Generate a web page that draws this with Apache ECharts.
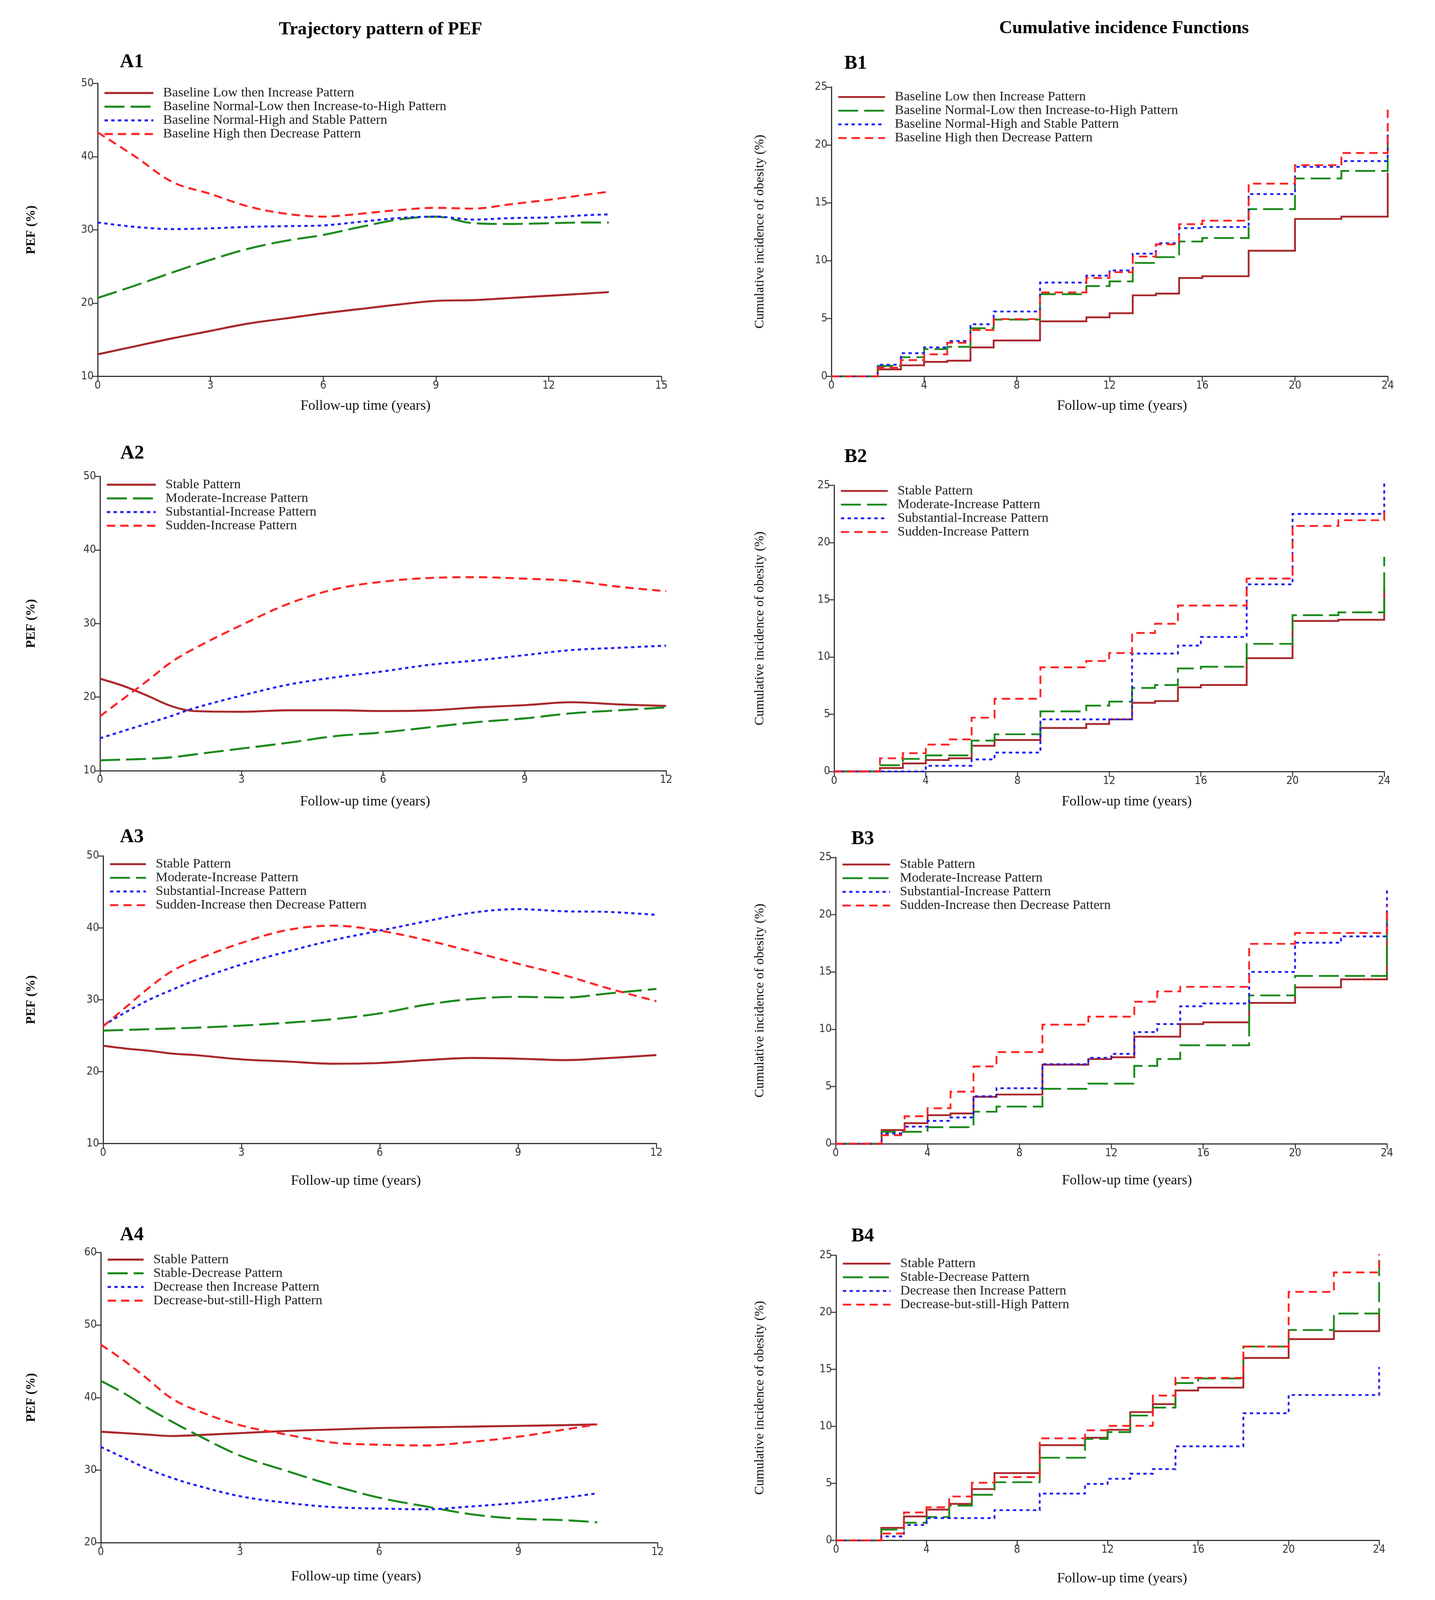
<!DOCTYPE html>
<html>
<head>
<meta charset="utf-8">
<script src="https://cdn.jsdelivr.net/npm/echarts@6/dist/echarts.min.js"></script>
<style>
html,body{margin:0;padding:0;background:#fff;overflow:hidden;}
#chart{width:3673px;height:5608px;}
</style>
</head>
<body>
<div id="chart"></div>
<script>
// ---------- DATA ----------
const mainTitles = ['Trajectory pattern of PEF', 'Cumulative incidence Functions'];
const panelLabels = ['A1', 'B1', 'A2', 'B2', 'A3', 'B3', 'A4', 'B4'];
const xTitle = 'Follow-up time (years)';
const yTitleA = 'PEF (%)';
const yTitleB = 'Cumulative incidence of obesity (%)';

const namesP1 = ['Baseline Low then Increase Pattern', 'Baseline Normal-Low then Increase-to-High Pattern',
  'Baseline Normal-High and Stable Pattern', 'Baseline High then Decrease Pattern'];
const namesP2 = ['Stable Pattern', 'Moderate-Increase Pattern', 'Substantial-Increase Pattern', 'Sudden-Increase Pattern'];
const namesP3 = ['Stable Pattern', 'Moderate-Increase Pattern', 'Substantial-Increase Pattern', 'Sudden-Increase then Decrease Pattern'];
const namesP4 = ['Stable Pattern', 'Stable-Decrease Pattern', 'Decrease then Increase Pattern', 'Decrease-but-still-High Pattern'];

// Trajectory panels (PEF %)
const a1Years = [0, 1, 2, 3, 4, 5, 6, 7, 8, 9, 10, 11, 12, 13, 13.6];
const a1Low   = [13.0, 14.1, 15.2, 16.2, 17.2, 17.9, 18.6, 19.2, 19.8, 20.3, 20.4, 20.7, 21.0, 21.3, 21.5];
const a1NLow  = [20.7, 22.4, 24.2, 25.9, 27.4, 28.5, 29.3, 30.4, 31.4, 31.8, 30.9, 30.8, 30.9, 31.0, 31.0];
const a1NHigh = [31.0, 30.4, 30.1, 30.2, 30.4, 30.5, 30.6, 31.1, 31.6, 31.8, 31.4, 31.6, 31.7, 32.0, 32.1];
const a1High  = [43.3, 40.0, 36.5, 34.9, 33.2, 32.2, 31.8, 32.2, 32.7, 33.0, 32.9, 33.5, 34.1, 34.8, 35.2];

const a2Years = [0, 0.5, 1, 1.5, 2, 3, 4, 5, 6, 7, 8, 9, 10, 11, 12];
const a2Stable = [22.5, 21.5, 20.2, 18.8, 18.1, 18.0, 18.2, 18.2, 18.1, 18.2, 18.6, 18.9, 19.3, 19.0, 18.8];
const a2Moder  = [11.4, 11.5, 11.6, 11.8, 12.2, 13.0, 13.8, 14.7, 15.2, 15.9, 16.6, 17.1, 17.8, 18.2, 18.6];
const a2Subst  = [14.4, 15.4, 16.4, 17.4, 18.5, 20.2, 21.7, 22.7, 23.5, 24.4, 25.0, 25.7, 26.4, 26.7, 27.0];
const a2Sudden = [17.4, 19.8, 22.2, 24.7, 26.6, 29.8, 32.7, 34.7, 35.7, 36.2, 36.3, 36.1, 35.8, 35.0, 34.4];

const a3Years = [0, 0.5, 1, 1.5, 2, 3, 4, 5, 6, 7, 8, 9, 10, 11, 12];
const a3Stable = [23.6, 23.2, 22.9, 22.5, 22.3, 21.7, 21.4, 21.1, 21.2, 21.6, 21.9, 21.8, 21.6, 21.9, 22.3];
const a3Moder  = [25.7, 25.8, 25.9, 26.0, 26.1, 26.4, 26.8, 27.3, 28.1, 29.3, 30.1, 30.4, 30.3, 30.9, 31.5];
const a3Subst  = [26.4, 28.3, 30.0, 31.4, 32.7, 34.9, 36.7, 38.3, 39.6, 40.9, 42.1, 42.6, 42.3, 42.2, 41.8];
const a3Sudden = [26.3, 29.0, 31.7, 34.0, 35.5, 37.9, 39.7, 40.3, 39.6, 38.3, 36.7, 35.0, 33.4, 31.5, 29.8];

const a4Years = [0, 0.5, 1, 1.5, 2, 3, 4, 5, 6, 7, 8, 9, 10, 10.7];
const a4Stable  = [35.3, 35.1, 34.9, 34.7, 34.8, 35.1, 35.4, 35.6, 35.8, 35.9, 36.0, 36.1, 36.2, 36.3];
const a4StabDec = [42.3, 40.6, 38.6, 36.8, 35.1, 32.0, 29.9, 27.9, 26.2, 25.0, 23.9, 23.3, 23.1, 22.8];
const a4DecInc  = [33.2, 31.7, 30.2, 29.0, 28.0, 26.4, 25.5, 24.9, 24.7, 24.6, 25.0, 25.5, 26.2, 26.8];
const a4DecHigh = [47.3, 45.1, 42.6, 40.0, 38.4, 36.2, 34.9, 33.8, 33.5, 33.4, 33.9, 34.6, 35.6, 36.3];

// Cumulative incidence (step functions, %)
const bYears = [0, 2, 3, 4, 5, 6, 7, 9, 11, 12, 13, 14, 15, 16, 18, 20, 22, 24];
const b1Low   = [0, 0.6, 0.95, 1.25, 1.35, 2.5, 3.1, 4.75, 5.1, 5.45, 7.0, 7.15, 8.5, 8.65, 10.85, 13.6, 13.8, 17.6];
const b1NLow  = [0, 0.9, 1.65, 2.35, 2.55, 4.15, 4.9, 7.1, 7.8, 8.2, 9.8, 10.3, 11.65, 11.95, 14.45, 17.1, 17.75, 20.6];
const b1NHigh = [0, 1.0, 2.0, 2.5, 3.05, 4.5, 5.6, 8.1, 8.7, 9.15, 10.6, 11.5, 12.8, 12.9, 15.75, 18.1, 18.6, 21.3];
const b1High  = [0, 0.75, 1.4, 1.9, 2.9, 4.0, 4.95, 7.25, 8.5, 9.0, 10.35, 11.4, 13.15, 13.45, 16.65, 18.25, 19.3, 23.1];

const b2Stable = [0, 0.3, 0.7, 1.0, 1.15, 2.25, 2.75, 3.8, 4.15, 4.55, 6.0, 6.15, 7.35, 7.55, 9.9, 13.15, 13.25, 16.0];
const b2Moder  = [0, 0.55, 1.1, 1.4, 1.4, 2.7, 3.25, 5.25, 5.75, 6.1, 7.3, 7.55, 9.0, 9.15, 11.15, 13.65, 13.9, 18.75];
const b2Subst  = [0, 0, 0, 0.5, 0.5, 1.05, 1.65, 4.55, 4.55, 4.55, 10.3, 10.3, 11.0, 11.75, 16.35, 22.5, 22.5, 25.3];
const b2Sudden = [0, 1.15, 1.6, 2.35, 2.8, 4.7, 6.35, 9.1, 9.65, 10.35, 12.1, 12.9, 14.5, 14.5, 16.85, 21.45, 21.95, 23.2];

const b3Stable = [0, 1.2, 1.8, 2.5, 2.65, 4.1, 4.3, 6.9, 7.4, 7.55, 9.35, 9.35, 10.45, 10.6, 12.3, 13.65, 14.35, 20.2];
const b3Moder  = [0, 1.05, 1.05, 1.45, 1.45, 2.8, 3.25, 4.8, 5.25, 5.25, 6.8, 7.4, 8.6, 8.6, 12.95, 14.65, 14.65, 19.5];
const b3Subst  = [0, 0.9, 1.5, 2.0, 2.3, 4.15, 4.85, 6.95, 7.5, 7.85, 9.75, 10.45, 12.0, 12.25, 15.0, 17.55, 18.1, 22.3];
const b3Sudden = [0, 0.75, 2.4, 3.1, 4.55, 6.75, 8.0, 10.4, 11.1, 11.1, 12.4, 13.3, 13.7, 13.7, 17.45, 18.4, 18.4, 20.8];

const b4Stable  = [0, 1.1, 2.1, 2.7, 3.2, 4.5, 5.9, 8.35, 9.0, 9.7, 11.25, 11.95, 13.15, 13.4, 16.0, 17.65, 18.35, 19.9];
const b4StabDec = [0, 0.95, 1.55, 2.05, 3.05, 4.0, 5.1, 7.25, 8.9, 9.5, 10.95, 11.65, 13.8, 14.2, 17.0, 18.45, 19.9, 24.6];
const b4DecInc  = [0, 0.35, 1.35, 1.95, 1.95, 1.95, 2.65, 4.1, 4.95, 5.4, 5.85, 6.25, 8.25, 8.25, 11.15, 12.75, 12.75, 15.2];
const b4DecHigh = [0, 0.6, 2.45, 2.9, 3.85, 5.05, 5.55, 8.95, 9.65, 10.05, 10.05, 12.7, 14.25, 14.25, 17.0, 21.8, 23.5, 25.1];

// Axis ticks
const aYTicks1 = {min: 10, max: 50, interval: 10};
const aYTicks4 = {min: 20, max: 60, interval: 10};
const aXTicks15 = {min: 0, max: 15, interval: 3};
const aXTicks12 = {min: 0, max: 12, interval: 3};
const bYTicks = {min: 0, max: 25, interval: 5};
const bXTicks = {min: 0, max: 24, interval: 4};

// ---------- SIZE / SCALE (layout designed for 3673 x 5608, fitted to the window) ----------
const REF_W = 3673, REF_H = 5608;
const W = Math.min(REF_W, window.innerWidth || REF_W);
const H = Math.min(REF_H, window.innerHeight || REF_H);
const sx = W / REF_W, sy = H / REF_H;
const sm = Math.sqrt(sx * sy);
const f = Math.min(1, sy * 1.1);   // font scale
const X = v => v * sx, Y = v => v * sy;

// ---------- STYLES ----------
const C_DARK = '#A8282C', C_GREEN = '#1C8A1C', C_BLUE = '#2020F5', C_RED = '#FF2424';
const styles = [
  {color: C_DARK, type: 'solid'},
  {color: C_GREEN, type: [60 * sm, 18 * sm]},
  {color: C_BLUE, type: [10 * sm, 10 * sm]},
  {color: C_RED, type: [25 * sm, 15 * sm]}
];
const SERIF = "'Liberation Serif', 'Times New Roman', serif";
const NARROW = "'Liberation Sans Narrow', 'Arial Narrow', 'DejaVu Sans Condensed', 'Liberation Sans', sans-serif";

// Panel layout (reference pixels)
const panels = [
  {label: 'A1', kind: 'A', grid: [250, 292, 1443, 1027], xt: aXTicks15, yt: aYTicks1, x: a1Years, ys: [a1Low, a1NLow, a1NHigh, a1High], names: namesP1,
   lab: [302, 218], legTop: 325, iconW: 125, xNameShift: -36, xNameOff: 104},
  {label: 'B1', kind: 'B', grid: [2128, 305, 1424, 1014], xt: bXTicks, yt: bYTicks, x: bYears, ys: [b1Low, b1NLow, b1NHigh, b1High], names: namesP1,
   lab: [2156, 223], legTop: 339, iconW: 120, xNameShift: 32, xNameOff: 104},
  {label: 'A2', kind: 'A', grid: [256, 1670, 1449, 1031], xt: aXTicks12, yt: aYTicks1, x: a2Years, ys: [a2Stable, a2Moder, a2Subst, a2Sudden], names: namesP2,
   lab: [303, 1589], legTop: 1698, iconW: 125, xNameShift: -46, xNameOff: 109},
  {label: 'B2', kind: 'B', grid: [2135, 1701, 1408, 1003], xt: bXTicks, yt: bYTicks, x: bYears, ys: [b2Stable, b2Moder, b2Subst, b2Sudden], names: namesP2,
   lab: [2156, 1602], legTop: 1720, iconW: 120, xNameShift: 45, xNameOff: 106},
  {label: 'A3', kind: 'A', grid: [264, 3000, 1416, 1008], xt: aXTicks12, yt: aYTicks1, x: a3Years, ys: [a3Stable, a3Moder, a3Subst, a3Sudden], names: namesP3,
   lab: [302, 2934], legTop: 3028, iconW: 92, xNameShift: -61, xNameOff: 132},
  {label: 'B3', kind: 'B', grid: [2139, 3005, 1411, 1004], xt: bXTicks, yt: bYTicks, x: bYears, ys: [b3Stable, b3Moder, b3Subst, b3Sudden], names: namesP3,
   lab: [2174, 2941], legTop: 3029, iconW: 122, xNameShift: 40, xNameOff: 129},
  {label: 'A4', kind: 'A', grid: [258, 4390, 1425, 1017], xt: aXTicks12, yt: aYTicks4, x: a4Years, ys: [a4Stable, a4StabDec, a4DecInc, a4DecHigh], names: namesP4,
   lab: [302, 4329], legTop: 4414, iconW: 92, xNameShift: -59, xNameOff: 120},
  {label: 'B4', kind: 'B', grid: [2140, 4400, 1390, 999], xt: bXTicks, yt: bYTicks, x: bYears, ys: [b4Stable, b4StabDec, b4DecInc, b4DecHigh], names: namesP4,
   lab: [2174, 4334], legTop: 4428, iconW: 122, xNameShift: 37, xNameOff: 135}
];

// ---------- BUILD OPTION ----------
const FS_MAIN = 58 * f, FS_LAB = 62 * f, FS_XNAME = 45 * f, FS_YA = 41 * f, FS_YB = 42 * f,
      FS_TICK = 35 * f, FS_LEG = 43 * f;
const grids = [], xAxes = [], yAxes = [], series = [], legends = [];
const titles = [
  {text: mainTitles[0], left: X(969), top: Y(104) - FS_MAIN / 2 - 5, textAlign: 'center',
   textStyle: {fontFamily: SERIF, fontWeight: 'bold', fontSize: FS_MAIN, color: '#000'}},
  {text: mainTitles[1], left: X(2872), top: Y(100) - FS_MAIN / 2 - 5, textAlign: 'center',
   textStyle: {fontFamily: SERIF, fontWeight: 'bold', fontSize: FS_MAIN, color: '#000'}}
];

panels.forEach((p, i) => {
  const [gl, gt, gw, gh] = p.grid;
  grids.push({left: X(gl), top: Y(gt), width: X(gw), height: Y(gh), containLabel: false});
  titles.push({text: p.label, left: X(p.lab[0]), top: Y(p.lab[1]) - FS_LAB / 2 - 5,
    textStyle: {fontFamily: SERIF, fontWeight: 'bold', fontSize: FS_LAB, color: '#000'}});
  const axisCommon = {
    axisLine: {show: true, lineStyle: {color: '#333', width: 3.5 * sm}},
    axisTick: {show: true, length: 16 * sm, inside: false, lineStyle: {color: '#333', width: 3 * sm}},
    axisLabel: {fontFamily: NARROW, fontSize: FS_TICK, color: '#333', margin: 12 * sm},
    splitLine: {show: false}
  };
  const sh = X(p.xNameShift);
  xAxes.push(Object.assign({
    gridIndex: i, type: 'value', min: p.xt.min, max: p.xt.max, interval: p.xt.interval,
    name: xTitle, nameLocation: 'middle', nameGap: Y(p.xNameOff) - FS_XNAME / 2,
    nameTextStyle: {fontFamily: SERIF, fontSize: FS_XNAME, color: '#111',
      padding: sh < 0 ? [0, -2 * sh, 0, 0] : [0, 0, 0, 2 * sh]}
  }, axisCommon));
  const yNameOff = p.kind === 'A' ? gl - 81 : gl - 1945;
  const fsY = p.kind === 'A' ? FS_YA : FS_YB;
  yAxes.push(Object.assign({
    gridIndex: i, type: 'value', min: p.yt.min, max: p.yt.max, interval: p.yt.interval,
    name: p.kind === 'A' ? yTitleA : yTitleB, nameLocation: 'middle',
    nameGap: X(yNameOff) - fsY / 2,
    nameTextStyle: p.kind === 'A'
      ? {fontFamily: SERIF, fontWeight: 'bold', fontSize: fsY, color: '#111'}
      : {fontFamily: SERIF, fontSize: fsY, color: '#111'}
  }, axisCommon));
  const lw = (p.kind === 'A' ? 6 : 5.5) * sm;
  p.ys.forEach((vals, k) => {
    const st = styles[k];
    const s = {
      type: 'line', name: p.names[k], xAxisIndex: i, yAxisIndex: i,
      data: p.x.map((xv, j) => [xv, vals[j]]),
      symbol: 'none', showSymbol: false,
      color: st.color,
      lineStyle: {color: st.color, width: lw, type: st.type, cap: 'butt', join: 'miter'},
      itemStyle: {color: st.color},
      emphasis: {disabled: true},
      animation: false, silent: true, z: 2 + k
    };
    if (p.kind === 'A') { s.smooth = 0.35; } else { s.step = 'end'; s.clip = false; }
    series.push(s);
  });
  const LH = 46 * sy;
  legends.push({
    orient: 'vertical', left: X(gl + 15), top: Y(p.legTop) - LH / 2,
    itemWidth: X(p.iconW), itemHeight: 20 * sy, itemGap: 0,
    selectedMode: false, padding: 0,
    data: p.names.map((n, k) => ({
      name: n,
      itemStyle: {opacity: 0, color: 'rgba(0,0,0,0)', borderWidth: 0},
      lineStyle: {width: lw, color: styles[k].color, type: styles[k].type, opacity: 1}
    })),
    itemStyle: {opacity: 0, borderWidth: 0},
    lineStyle: {width: lw, opacity: 1},
    textStyle: {fontFamily: SERIF, fontSize: FS_LEG, color: '#222', lineHeight: LH, padding: [0, 0, 0, X(20)]}
  });
});

const el = document.getElementById('chart');
el.style.width = W + 'px';
el.style.height = H + 'px';
const chart = echarts.init(el, null, {renderer: 'canvas', width: W, height: H});
chart.setOption({
  backgroundColor: '#ffffff',
  animation: false,
  title: titles,
  grid: grids,
  xAxis: xAxes,
  yAxis: yAxes,
  legend: legends,
  series: series
});
</script>
</body>
</html>
